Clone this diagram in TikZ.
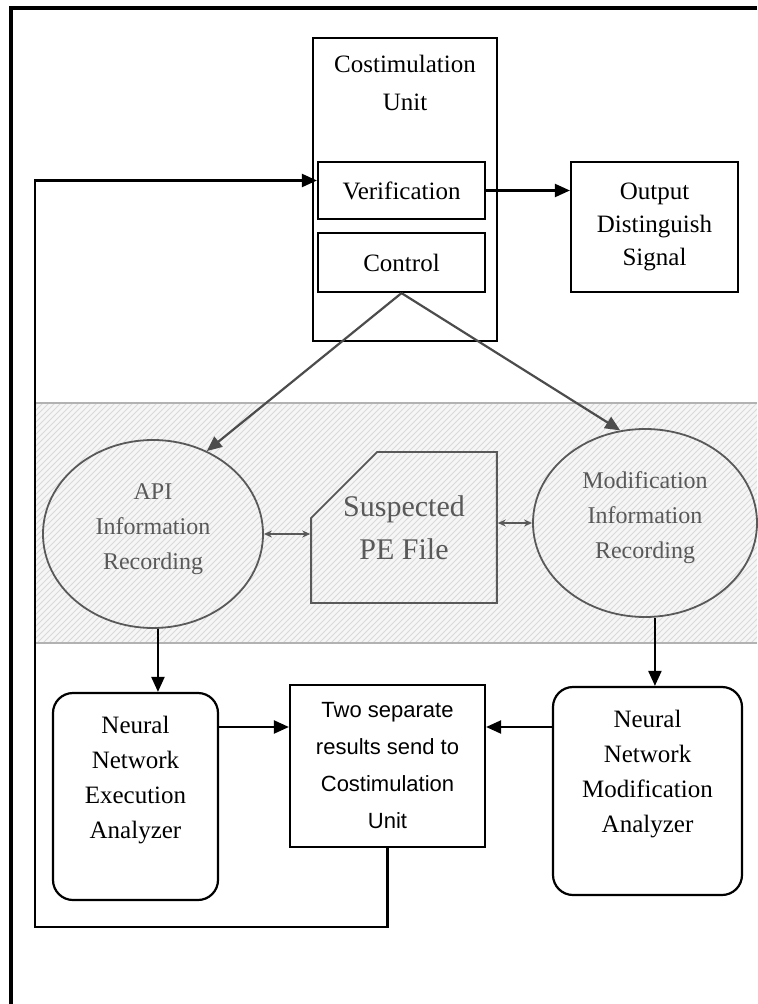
\documentclass[tikz,border=0pt]{standalone}
\usepackage{fontspec}
\setmainfont{Liberation Serif}
\newfontfamily\twofont{Liberation Sans}
\usepackage{tikz}
\usetikzlibrary{arrows.meta}
\usetikzlibrary{calc}
\usetikzlibrary{shapes.geometric}
\usetikzlibrary{shapes.misc}
\usetikzlibrary{patterns}

\begin{document}
\begin{tikzpicture}[x=0.5pt, y=-0.5pt, line width=1.1pt,
        box_style/.style={rectangle,draw=black,inner sep=0pt,align=center,font=\fontsize{12.5}{16.5}\selectfont},
        nn_style/.style={rectangle,draw=black,rounded corners=10pt,inner sep=0pt},
        nn_text/.style={anchor=north,yshift=-8pt,align=center,font=\fontsize{12.5}{17.5}\selectfont},
        rec_style/.style={ellipse,draw=gray!70!black,line width=0.9pt,inner sep=0pt},
        rec_text/.style={align=center,yshift=2.5pt,text=gray!70!black,font=\fontsize{12}{17.5}\selectfont},
        file_style/.style={chamfered rectangle,chamfered rectangle corners=north west,chamfered rectangle sep=17pt,draw=gray!70!black,line width=0.9pt,inner sep=0pt,align=center,text=gray!70!black,font=\fontsize{15}{21.5}\selectfont},
        edge_style/.style={draw=black,-{Triangle[length=7.5pt,width=6.5pt]}},
        ctrl_edge_style/.style={draw=black!70,-{Triangle[length=7.5pt,width=6.5pt]}},
        both_edge_style/.style={draw=gray!70!black,line width=0.8pt,{Stealth[length=4pt,width=3.5pt]}-{Stealth[length=4pt,width=3.5pt]}}]

        \useasboundingbox (0,0) rectangle (757,1004);

        % frame and hatched band
        \draw [line width=2pt] (11,1004) -- (11,8) -- (757,8);
        \fill [gray!7] (35,403) rectangle (757,643);
        \fill [pattern=north east lines,pattern color=gray!30] (35,403) rectangle (757,643);
        \draw [gray!60,line width=1.4pt] (35,403) -- (757,403);
        \draw [gray!60,line width=1.4pt] (35,643) -- (757,643);

        \node [box_style,minimum width=92pt,minimum height=151.5pt,
            label={[anchor=north,yshift=-5pt,align=center,font=\fontsize{12.5}{19}\selectfont]north:Costimulation\\Unit}](unit) at (405,189.5) {};
    
        \node [box_style,minimum width=83.5pt,minimum height=28.5pt](verif) at (401.5,190.5) {Verification};
    
        \node [box_style,minimum width=83.5pt,minimum height=29.5pt](ctrl) at (401.5,262.5) {Control};
    
        \node [box_style,minimum width=83.5pt,minimum height=65pt](output) at (654.5,227) {Output\\Distinguish\\Signal};
    
        \node [rec_style,minimum width=110pt,minimum height=94pt,
            label={[rec_text]center:API\\Information\\Recording}](api) at (153,534) {};
    
        \node [file_style,minimum width=92pt,minimum height=75.5pt](pefile) at (404,527.5) {Suspected\\PE File};
    
        \node [rec_style,minimum width=112pt,minimum height=94pt,
            label={[rec_text]center:Modification\\Information\\Recording}](modrec) at (645,523) {};
    
        \node [nn_style,minimum width=82.5pt,minimum height=103.5pt,
            label={[nn_text]north:Neural\\Network\\Execution\\Analyzer}](execnn) at (135.5,796.5) {};
    
        \node [box_style,font=\twofont\fontsize{11}{18.5}\selectfont,minimum width=97.5pt,minimum height=81pt](results) at (387.5,766) {Two separate\\results send to\\Costimulation\\Unit};
    
        \node [nn_style,minimum width=94.5pt,minimum height=104pt,
            label={[nn_text]north:Neural\\Network\\Modification\\Analyzer}](modnn) at (647.5,791) {};

        \coordinate (arrow_y) at (0,727);
        \coordinate (fb_corner) at (35,927);
    
        \draw [edge_style] (verif.east) -- (verif.east -| output.west);
    
        \draw [ctrl_edge_style] (ctrl.south) -- (api.57);
    
        \draw [ctrl_edge_style] (ctrl.south) -- (modrec.105);
    
        \draw [both_edge_style] (api.east) -- (api.east -| pefile.west);
    
        \draw [both_edge_style] (modrec.west) -- (modrec.west -| pefile.east);
    
        \draw [edge_style] (api.-87) -- (api.-87 |- execnn.north);
    
        \draw [edge_style] (modrec.-84) -- (modrec.-84 |- modnn.north);
    
        \draw [edge_style] (execnn.east |- arrow_y) -- (results.west |- arrow_y);
    
        \draw [edge_style] (modnn.west |- arrow_y) -- (results.east |- arrow_y);
    
        \draw [edge_style] (results.south) |- (fb_corner) |- ([yshift=5pt]verif.west);
    
        \end{tikzpicture}
\end{document}
